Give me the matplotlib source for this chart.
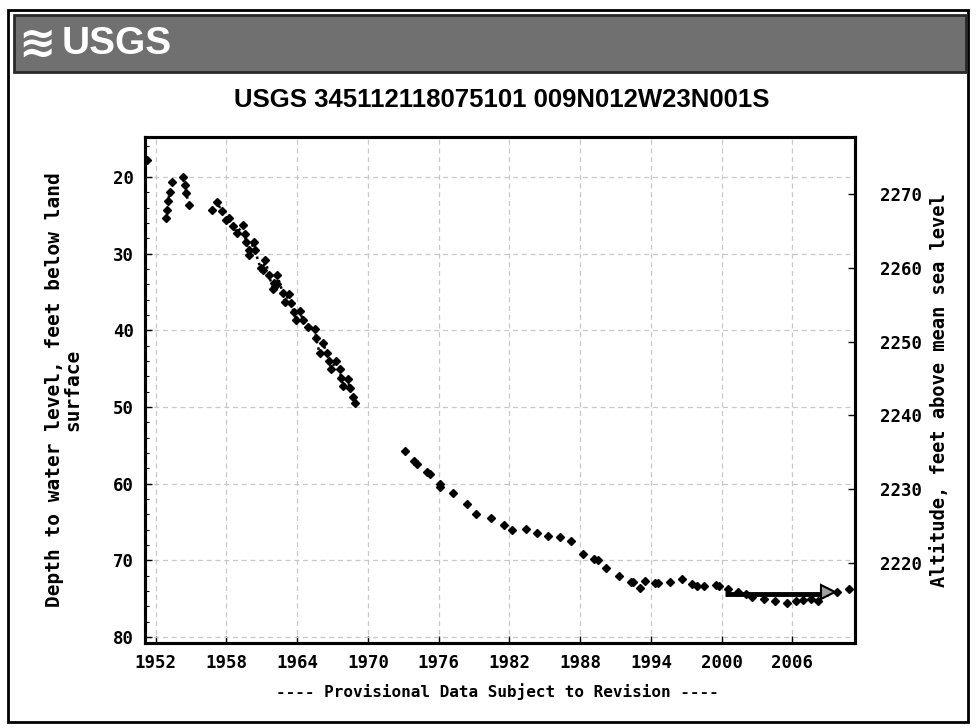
import matplotlib
matplotlib.use("Agg")
import matplotlib.pyplot as plt
from matplotlib.patches import Rectangle
import numpy as np

# ---------------- data ----------------
title = "USGS 345112118075101 009N012W23N001S"
x_ticks = [1952, 1958, 1964, 1970, 1976, 1982, 1988, 1994, 2000, 2006]
depth_ticks = [20, 30, 40, 50, 60, 70, 80]
alt_ticks = [2220, 2230, 2240, 2250, 2260, 2270]

seg1_years = [1951.26, 1952.85, 1953.0, 1953.05, 1953.2, 1953.4, 1954.3, 1954.5, 1954.6, 1954.8]
seg1_depth = [17.8, 25.3, 24.3, 23.1, 22.0, 20.7, 20.0, 21.1, 22.1, 23.7]

seg2_years = [1956.76, 1957.2, 1957.6, 1957.95, 1958.2, 1958.6, 1958.9, 1959.4, 1959.6,
              1959.65, 1959.9, 1959.95, 1960.3, 1960.4, 1960.9, 1961.1, 1961.3, 1961.6,
              1961.95, 1962.0, 1962.25, 1962.3, 1962.8, 1962.96, 1963.3, 1963.5, 1963.7,
              1963.9, 1964.2, 1964.5, 1964.9, 1965.5, 1965.6, 1965.9, 1966.2, 1966.5,
              1966.7, 1966.9, 1967.3, 1967.6, 1967.7, 1967.9, 1968.3, 1968.45, 1968.7, 1968.9]
seg2_depth = [24.3, 23.3, 24.4, 25.6, 25.3, 26.4, 27.3, 26.3, 27.5,
              28.5, 29.6, 30.2, 28.5, 29.5, 31.9, 32.2, 30.8, 32.8,
              34.6, 33.9, 34.0, 32.8, 35.2, 36.3, 35.3, 36.4, 37.6,
              38.7, 37.5, 38.7, 39.6, 39.8, 41.0, 43.0, 41.7, 43.0,
              44.0, 45.0, 44.0, 45.1, 46.2, 47.3, 46.3, 47.6, 48.7, 49.5]

seg3_years = [1973.16, 1973.9, 1974.2, 1975.0, 1975.3, 1976.1, 1976.15, 1977.2, 1978.4,
              1979.2, 1980.4, 1981.5, 1982.2, 1983.4, 1984.3, 1985.3, 1986.3, 1987.2,
              1988.2, 1989.2, 1989.5, 1990.2, 1991.3]
seg3_depth = [55.7, 57.0, 57.5, 58.5, 58.8, 60.0, 60.4, 61.2, 62.7,
              64.0, 64.5, 65.4, 66.1, 65.9, 66.4, 66.8, 67.0, 67.5,
              69.2, 69.8, 70.0, 71.0, 72.1]

seg4_years = [1992.3, 1992.5, 1993.1, 1993.5, 1994.3, 1994.6, 1995.6, 1996.6, 1997.5,
              1997.9, 1998.5, 1999.5, 1999.8, 2000.5, 2001.4, 2002.1, 2002.6, 2003.6,
              2004.5, 2005.5, 2006.3, 2006.9, 2007.6, 2008.2, 2009.8, 2010.8]
seg4_depth = [72.8, 72.9, 73.6, 72.7, 73.0, 73.0, 72.9, 72.4, 73.1,
              73.4, 73.3, 73.2, 73.4, 73.7, 74.1, 74.4, 74.8, 75.1,
              75.3, 75.6, 75.3, 75.2, 75.0, 75.3, 74.2, 73.7]

bar_years = [2000.3, 2009.0]
bar_depth = [74.4, 74.4]

# ---------------- figure ----------------
W, H = 978, 728
fig = plt.figure(figsize=(W / 100, H / 100), dpi=100)
fig.patch.set_facecolor("white")

def fx(px):
    return px / W

def fy(py):
    return 1 - py / H

def broken(xs, ys, gap=0.7):
    """Insert NaN where consecutive measurements are far apart in time."""
    ox, oy = [xs[0]], [ys[0]]
    for i in range(1, len(xs)):
        if xs[i] - xs[i - 1] > gap:
            ox.append(np.nan)
            oy.append(np.nan)
        ox.append(xs[i])
        oy.append(ys[i])
    return ox, oy

# outer frame
fig.patches.append(Rectangle((fx(8), fy(722)), fx(968) - fx(8), fy(10) - fy(722),
                             transform=fig.transFigure, fill=False, ec="black", lw=2))
# banner
fig.patches.append(Rectangle((fx(14), fy(72)), fx(966) - fx(14), fy(15) - fy(72),
                             transform=fig.transFigure, fc="#707070", ec="#2a2a2a", lw=2))
fig.text(fx(18), fy(44), "\u224B", color="white", fontsize=32, fontweight="bold",
         va="center", ha="left", family="DejaVu Sans")
fig.text(fx(62), fy(44), "USGS", color="white", fontsize=28, fontweight="bold",
         va="center", ha="left", family="Liberation Sans")

fig.text(fx(502), fy(100), title, fontsize=18.5, fontweight="bold", ha="center",
         va="center", family="Liberation Sans")

ax = fig.add_axes([fx(145), fy(643), fx(855) - fx(145), fy(137) - fy(643)])
mono = "DejaVu Sans Mono"

ax.set_xlim(1951.1, 2011.3)
ax.set_ylim(80.8, 14.8)
ax.set_xticks(x_ticks)
ax.set_xticklabels([str(v) for v in x_ticks], fontfamily=mono, fontweight="bold", fontsize=12.5)
ax.set_yticks(depth_ticks)
ax.set_yticklabels([str(v) for v in depth_ticks], fontfamily=mono, fontweight="bold", fontsize=12.5)
ax.set_yticks(np.arange(16, 81, 2), minor=True)
ax.tick_params(axis="both", which="major", direction="in", length=5, width=1, pad=8)
ax.tick_params(axis="y", which="minor", direction="in", length=3, width=0.8)
ax.grid(True, which="major", color="#c8c8c8", linestyle=(0, (4, 3)), linewidth=0.9)
for s in ax.spines.values():
    s.set_linewidth(2.2)

ax.set_ylabel("Depth to water level, feet below land\nsurface", fontfamily=mono,
              fontweight="bold", fontsize=14, linespacing=0.95, labelpad=22)

for xs, ys in [(seg1_years, seg1_depth), (seg2_years, seg2_depth)]:
    lx, ly = broken(xs, ys)
    ax.plot(lx, ly, color="black", linestyle=":", linewidth=1.8, zorder=3)
for xs, ys in [(seg1_years, seg1_depth), (seg2_years, seg2_depth),
               (seg3_years, seg3_depth), (seg4_years, seg4_depth)]:
    ax.plot(xs, ys, color="black", linestyle="none", marker="D", markersize=4.3, zorder=3)
ax.plot(bar_years, bar_depth, color="black", linewidth=3.5, solid_capstyle="butt", zorder=4)
ax.plot([bar_years[-1]], [bar_depth[-1] - 0.2], marker=">", markersize=10,
        markerfacecolor="#a0a0a0", markeredgecolor="black", markeredgewidth=1.5,
        linestyle="none", zorder=5)

ax2 = ax.twinx()
ax2.set_ylim(2209.2, 2277.7)
ax2.set_yticks(alt_ticks)
ax2.set_yticklabels([str(v) for v in alt_ticks], fontfamily=mono, fontweight="bold", fontsize=12.5)
ax2.tick_params(axis="y", direction="in", length=5, width=1, pad=18)
ax2.set_ylabel("Altitude, feet above mean sea level", fontfamily=mono, fontweight="bold",
               fontsize=13.5, labelpad=6)
for s in ax2.spines.values():
    s.set_linewidth(2.2)

fig.text(fx(497), fy(692), "---- Provisional Data Subject to Revision ----",
         fontfamily=mono, fontweight="bold", fontsize=11.5, ha="center", va="center")

fig.savefig("out.png", dpi=100)
